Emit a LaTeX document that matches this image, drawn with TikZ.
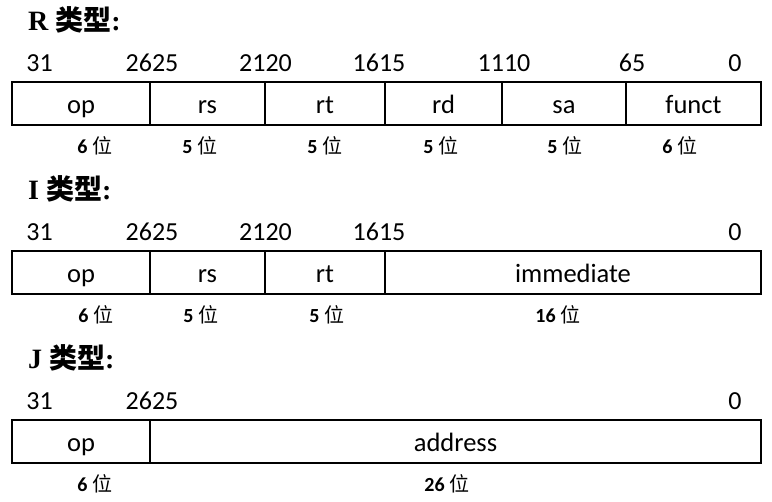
\documentclass[tikz,border=0pt]{standalone}
\usepackage{fontspec}
\usetikzlibrary{positioning}
\setmainfont{Liberation Serif}
\newfontfamily\cjk{Noto Sans CJK SC}
\newfontfamily\calibri{Carlito}
\newcommand{\nbits}[1]{{\calibri\bfseries #1}\hspace{5pt}{\cjk 位}}

\begin{document}
\begin{tikzpicture}[x=1pt, y=-1pt,
    title/.style={anchor=base west, inner sep=0pt, font=\bfseries\fontsize{28}{30}\selectfont},
    bitno/.style={anchor=base, inner sep=0pt, font=\calibri\fontsize{26}{28}\selectfont},
    field/.style={draw, line width=1.2pt, outer sep=0pt, inner sep=0pt,
                  minimum height=43pt, text height=21pt, text depth=0pt,
                  font=\calibri\fontsize{26.5}{28}\selectfont},
    size/.style={anchor=base, inner sep=0pt, font=\fontsize{20}{22}\selectfont},
    node distance=0pt
]
    \useasboundingbox (0,0) rectangle (772,502);

    % R type
    \node[title] (rtitle) at (28,31) {R {\cjk 类型}:};
    \node[bitno] (rb31) at (39.5,72) {31};
    \node[bitno] (rb26) at (152,72) {2625};
    \node[bitno] (rb21) at (265.5,72) {2120};
    \node[bitno] (rb16) at (379,72) {1615};
    \node[bitno] (rb11) at (504,72) {1110};
    \node[bitno] (rb6) at (632,72) {65};
    \node[bitno] (rb0) at (735,72) {0};
    \node[field, anchor=west, minimum width=138pt] (rop) at (12,103.5) {op};
    \node[field, minimum width=115pt, right=of rop] (rrs) {rs};
    \node[field, minimum width=120pt, right=of rrs] (rrt) {rt};
    \node[field, minimum width=117pt, right=of rrt] (rrd) {rd};
    \node[field, minimum width=124pt, right=of rrd] (rsa) {sa};
    \node[field, minimum width=135pt, right=of rsa] (rfunct) {funct};
    \node[size] (rsop) at (95,154) {\nbits{6}};
    \node[size] (rsrs) at (200,154) {\nbits{5}};
    \node[size] (rsrt) at (325,154) {\nbits{5}};
    \node[size] (rsrd) at (441,154) {\nbits{5}};
    \node[size] (rssa) at (565,154) {\nbits{5}};
    \node[size] (rsfunct) at (680,154) {\nbits{6}};

    % I type
    \node[title] (ititle) at (28,200) {I {\cjk 类型}:};
    \node[bitno] (ib31) at (39.5,241) {31};
    \node[bitno] (ib26) at (152,241) {2625};
    \node[bitno] (ib21) at (265.5,241) {2120};
    \node[bitno] (ib16) at (379,241) {1615};
    \node[bitno] (ib0) at (735,241) {0};
    \node[field, anchor=west, minimum width=138pt] (iop) at (12,272.5) {op};
    \node[field, minimum width=115pt, right=of iop] (irs) {rs};
    \node[field, minimum width=120pt, right=of irs] (irt) {rt};
    \node[field, minimum width=376pt, right=of irt] (iimm) {immediate};
    \node[size] (isop) at (96,323) {\nbits{6}};
    \node[size] (isrs) at (201,323) {\nbits{5}};
    \node[size] (isrt) at (327,323) {\nbits{5}};
    \node[size] (isimm) at (558,323) {\nbits{16}};

    % J type
    \node[title] (jtitle) at (28,369) {J {\cjk 类型}:};
    \node[bitno] (jb31) at (39.5,410) {31};
    \node[bitno] (jb26) at (152,410) {2625};
    \node[bitno] (jb0) at (735,410) {0};
    \node[field, anchor=west, minimum width=138pt] (jop) at (12,441.5) {op};
    \node[field, minimum width=611pt, right=of jop] (jaddr) {address};
    \node[size] (jsop) at (95,492) {\nbits{6}};
    \node[size] (jsaddr) at (447,492) {\nbits{26}};
\end{tikzpicture}
\end{document}
